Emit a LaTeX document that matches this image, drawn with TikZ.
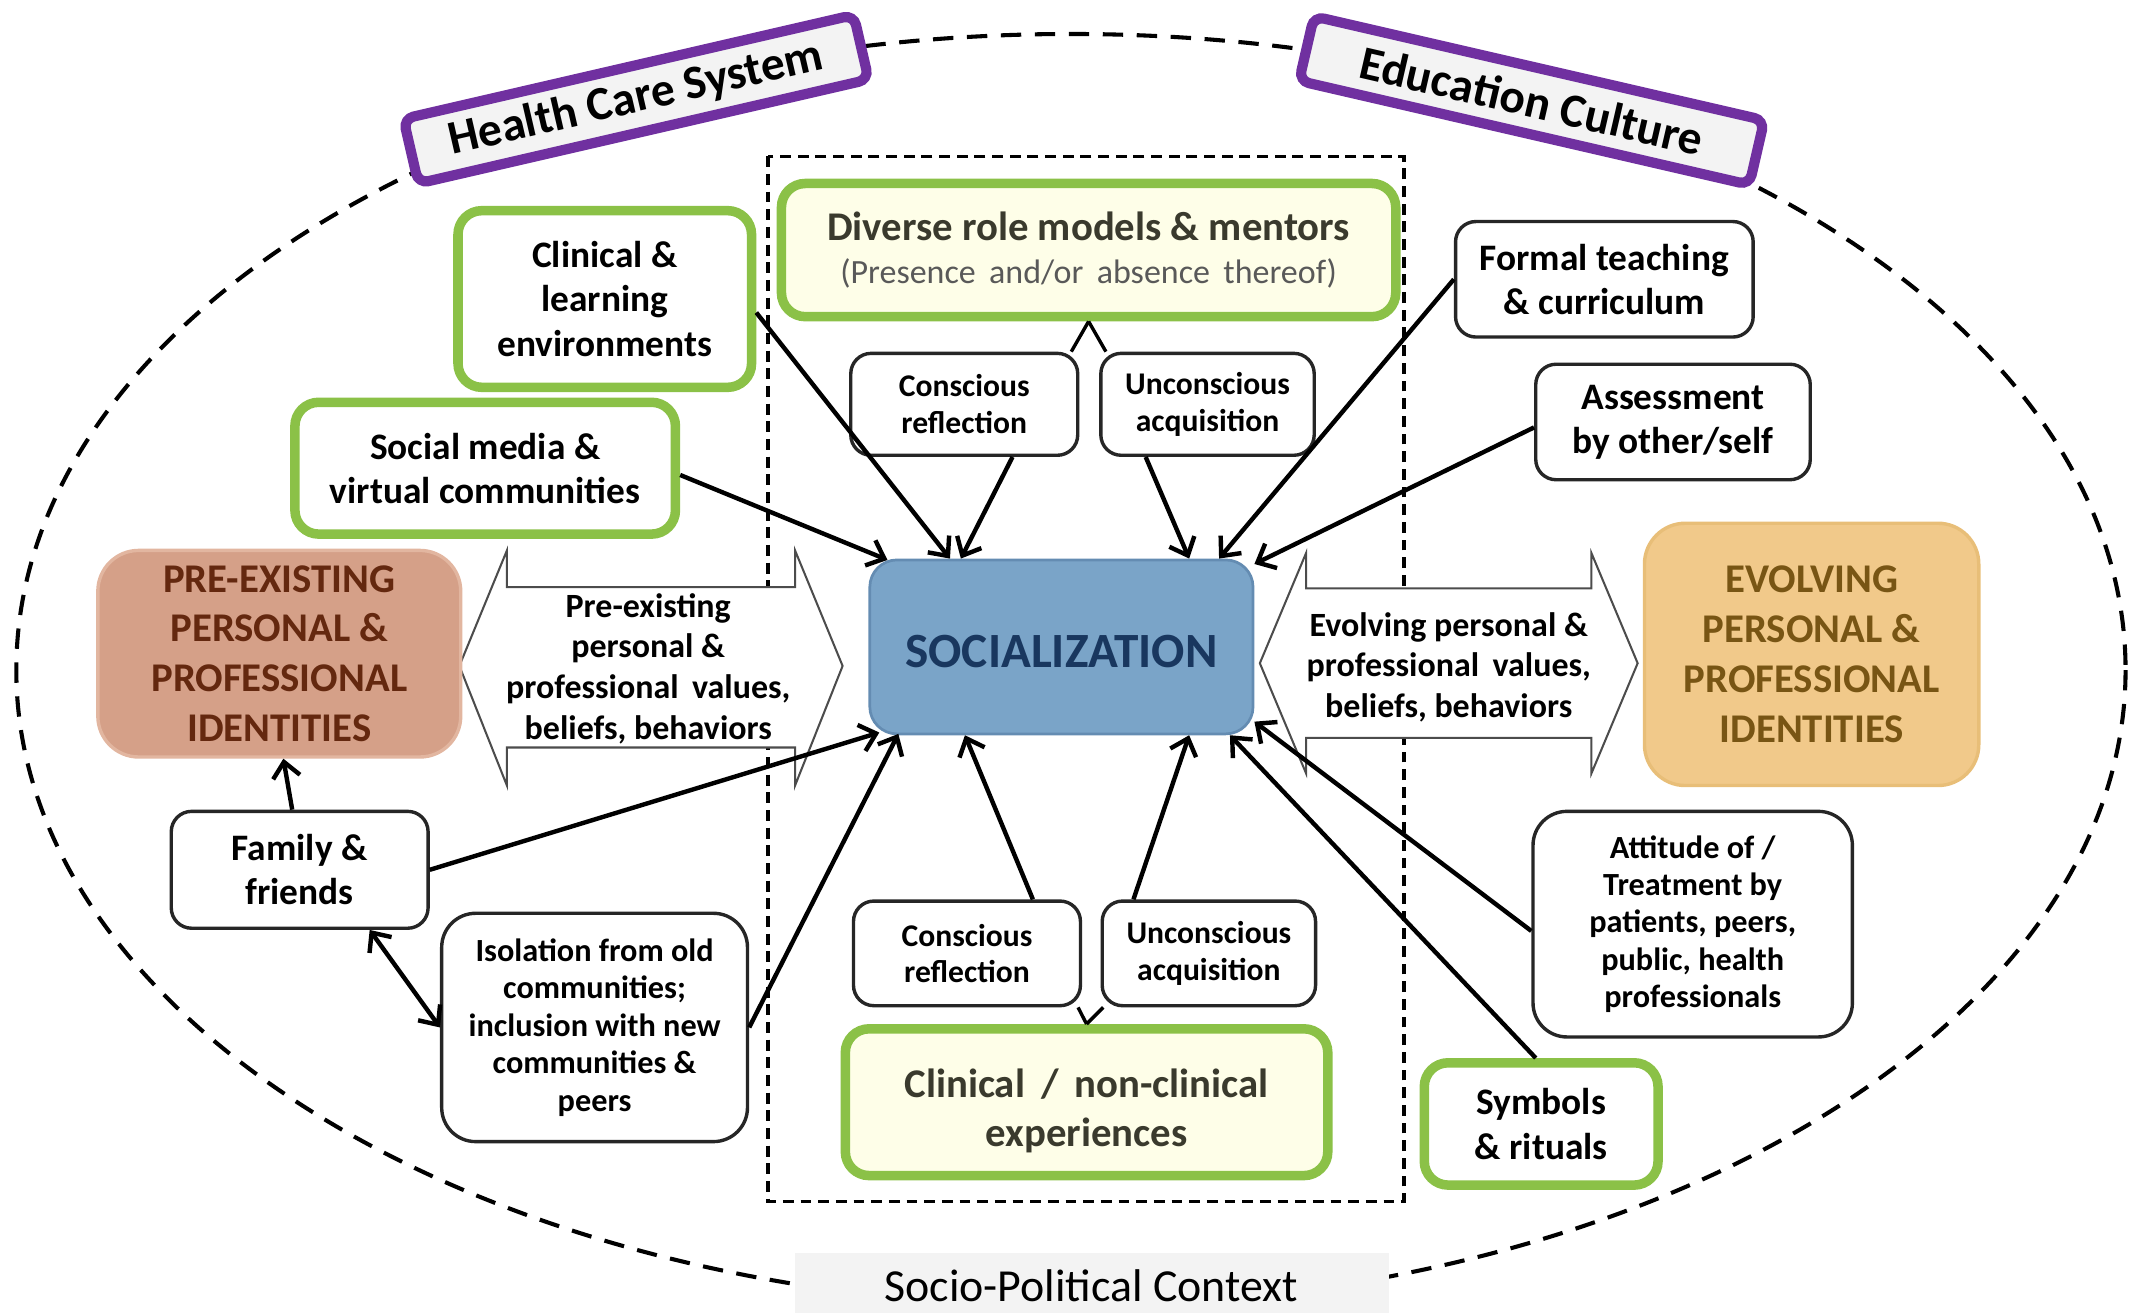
\documentclass[tikz,border=0pt]{standalone}
\usepackage{fontspec}
\setmainfont{Carlito}
\usetikzlibrary{arrows.meta,calc}
\definecolor{grn}{RGB}{139,193,71}
\definecolor{purp}{RGB}{112,48,160}
\definecolor{lgray}{RGB}{243,243,243}
\definecolor{ivory}{RGB}{254,254,232}
\definecolor{socfill}{RGB}{122,164,200}
\definecolor{socdraw}{RGB}{100,140,178}
\definecolor{soctext}{RGB}{25,55,95}
\definecolor{prefill}{RGB}{213,160,136}
\definecolor{predraw}{RGB}{226,182,160}
\definecolor{pretext}{RGB}{100,40,15}
\definecolor{evofill}{RGB}{241,201,138}
\definecolor{evodraw}{RGB}{232,190,120}
\definecolor{evotext}{RGB}{120,85,20}
\definecolor{divtext}{RGB}{58,58,45}
\begin{document}
\begin{tikzpicture}[x=0.4pt,y=-0.4pt,
  bx/.style args={#1/#2/#3/#4}{minimum width={((#3)-(#1))*0.4pt}, minimum height={((#4)-(#2))*0.4pt}, at={({((#1)+(#3))/2},{((#2)+(#4))/2})}},
  blk/.style={draw=black!85, line width=1pt, rounded corners=6pt, fill=white, inner sep=0pt, align=center, font=\bfseries\fontsize{11}{13}\selectfont},
  sblk/.style={blk, font=\bfseries\fontsize{9.3}{10.8}\selectfont},
  mblk/.style={blk, rounded corners=10pt, font=\bfseries\fontsize{9.5}{11}\selectfont},
  gbox/.style={blk, draw=grn, line width=2.8pt, rounded corners=7pt},
  arr/.style={line width=1.3pt, -{Straight Barb[length=4.5pt,width=8pt]}},
  twoarr/.style={line width=1.3pt, {Straight Barb[length=4.5pt,width=8pt]}-{Straight Barb[length=4.5pt,width=8pt]}},
  vline/.style={line width=1pt},
  barrow/.style={draw=black!70, line width=0.6pt, fill=white},
  btext/.style={align=center, font=\bfseries\fontsize{10}{12}\selectfont, inner sep=0pt},
  tag/.style={draw=purp, line width=3pt, fill=lgray, rounded corners=3pt, minimum width=136pt, minimum height=19.5pt, inner sep=0pt, font=\bfseries\fontsize{14}{16}\selectfont}
]
\useasboundingbox (0,0) rectangle (1568,966);
% outer context ellipse
\draw[line width=1.2pt, dash pattern=on 6pt off 4pt] (788,493) ellipse [x radius=776, y radius=468];
% inner dashed frame
\draw[line width=1pt, dash pattern=on 3.2pt off 2pt] (565,115) rectangle (1033,884);
% context tags
\node[tag, rotate=13] (hcs) at (468,73) {Health Care System};
\node[tag, rotate=-13] (edu) at (1127,74) {Education Culture};
\node[bx=585/922/1022/972, fill=lgray, inner sep=0pt] (spcbox) {};
\node[font=\fontsize{13.5}{15}\selectfont, inner sep=0pt] (spc) at (803,946) {Socio-Political Context};
% block arrows
\draw[barrow] (338,490) -- (373,405) -- (373,432) -- (585,432) -- (585,405) -- (620,490) -- (585,578) -- (585,550) -- (373,550) -- (373,578) -- cycle;
\node[btext] (pretxt) at (477,492) {Pre-existing\\personal \&\\professional\, values,\\beliefs, behaviors};
\draw[barrow] (927,488) -- (961,407) -- (961,433) -- (1171,433) -- (1171,407) -- (1205,488) -- (1171,569) -- (1171,543) -- (961,543) -- (961,569) -- cycle;
\node[btext] (evotxt) at (1066,491) {Evolving personal \&\\professional\, values,\\beliefs, behaviors};
% main nodes
\node[bx=640/412/922/540, inner sep=0pt, fill=socfill, draw=socdraw, line width=0.8pt, rounded corners=8pt, text=soctext, font=\bfseries\fontsize{14.5}{16}\selectfont] (soc) {\rule{0pt}{12.5pt}SOCIALIZATION};
\node[bx=72/405/339/557, inner sep=0pt, fill=prefill, draw=predraw, line width=1pt, rounded corners=12pt, align=center, text=pretext, font=\bfseries\fontsize{12}{14.7}\selectfont] (pre) {PRE-EXISTING\\PERSONAL \&\\PROFESSIONAL\\IDENTITIES};
\node[bx=1210/385/1456/578, inner sep=0pt, fill=evofill, draw=evodraw, line width=1pt, rounded corners=12pt, align=center, text=evotext, font=\bfseries\fontsize{12}{14.7}\selectfont] (evo) {EVOLVING\\PERSONAL \&\\PROFESSIONAL\\IDENTITIES};
\node[gbox, fill=ivory, bx=575/135/1027/233] (div) {{\color{divtext}\fontsize{12}{14}\selectfont Diverse role models \& mentors}\\[-0.5pt]{\mdseries\color{black!65}\fontsize{10}{12}\selectfont (Presence\, and/or\, absence\, thereof)}};
\node[gbox, fill=ivory, bx=622/757/977/865, text=divtext, font=\bfseries\fontsize{12}{14.4}\selectfont] (cln) {\rule{0pt}{13.4pt}Clinical\, /\, non-clinical\\experiences};
\node[gbox, bx=337/155/553/285] (clin) {Clinical \&\\learning\\environments};
\node[gbox, bx=217/296/497/393] (social) {Social media \&\\virtual communities};
\node[sblk, bx=626/260/793/335] (crt) {Conscious\\reflection};
\node[sblk, bx=810/260/967/335] (uat) {Unconscious\\acquisition};
\node[blk, bx=1071/163/1290/248] (formal) {Formal teaching\\\& curriculum};
\node[blk, bx=1130/268/1332/353] (assess) {Assessment\\by other/self};
\node[blk, bx=126/597/315/683] (family) {Family \&\\friends};
\node[mblk, bx=325/672/550/840] (iso) {Isolation from old\\communities;\\inclusion with new\\communities \&\\peers};
\node[sblk, bx=628/663/795/740] (crb) {Conscious\\reflection};
\node[sblk, bx=811/663/968/740] (uab) {Unconscious\\acquisition};
\node[mblk, bx=1128/597/1363/763] (att) {Attitude of /\\Treatment by\\patients, peers,\\public, health\\professionals};
\node[gbox, bx=1048/782/1220/872] (sym) {Symbols\\\& rituals};
% split lines
\draw[vline] (div.south) -- ($(crt.north east)+(-6,0)$);
\draw[vline] (div.south) -- ($(uat.north west)+(5,0)$);
\draw[vline] (cln.north) -- ($(crb.south east)+(-3,0)$);
\draw[vline] (cln.north) -- ($(uab.south west)+(2,0)$);
% arrows into socialization (top)
\draw[arr] ($(clin.east)+(0,10)$) -- ($(soc.north west)+(60,0)$);
\draw[arr] ($(crt.south)+(35.5,0)$) -- ($(soc.north west)+(68,0)$);
\draw[arr] ($(uat.south)+(-45.5,0)$) -- ($(soc.north west)+(236,0)$);
\draw[arr] (formal.west) -- ($(soc.north west)+(258,0)$);
\draw[arr] ($(assess.west)+(0,4)$) -- ($(soc.north east)+(0,4)$);
\draw[arr] ($(social.east)+(0,5)$) -- ($(soc.north west)+(14,1)$);
% arrows into socialization (bottom)
\draw[arr] (family.east) -- ($(soc.south west)+(8,-2)$);
\draw[arr] (iso.east) -- ($(soc.south west)+(22,-1)$);
\draw[arr] ($(crb.north)+(48.5,0)$) -- ($(soc.south west)+(71,0)$);
\draw[arr] ($(uab.north)+(-55.5,0)$) -- ($(soc.south west)+(236,0)$);
\draw[arr] ($(sym.north)+(-4,0)$) -- ($(soc.south west)+(266,0)$);
\draw[arr] ($(att.west)+(0,5)$) -- ($(soc.south east)+(0,-10)$);
% family links
\draw[arr] ($(family.north)+(-5.5,0)$) -- ($(pre.south)+(3,0)$);
\draw[twoarr] ($(family.south)+(51.5,0)$) -- (iso.west);
\end{tikzpicture}
\end{document}
